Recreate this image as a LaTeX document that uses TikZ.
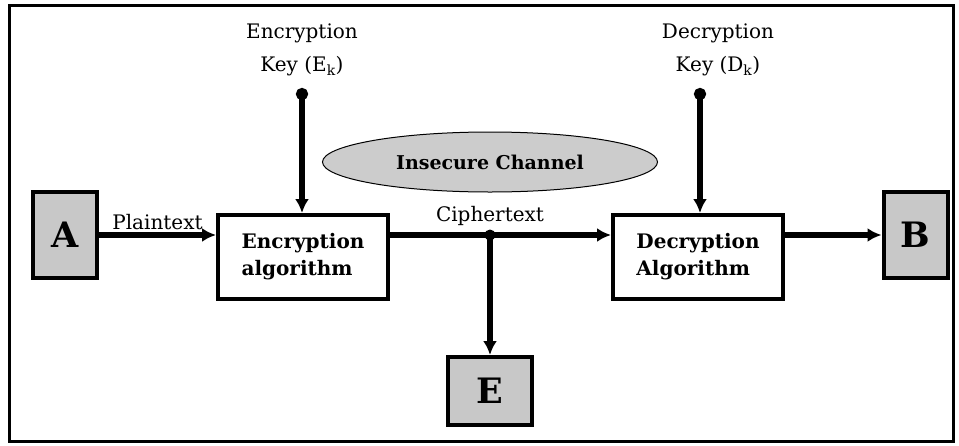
\documentclass[tikz,border=0pt]{standalone}
\usepackage{fontspec}
\setmainfont{DejaVu Serif}
\usetikzlibrary{arrows.meta,shapes.geometric}
\definecolor{partygray}{RGB}{200,200,200}
\definecolor{chgray}{RGB}{204,204,204}
\tikzset{
  party/.style={draw,line width=4pt,fill=partygray,minimum width=64pt,minimum height=86pt,
    font=\fontsize{35}{35}\selectfont\bfseries},
  algo/.style={draw,line width=4pt,fill=white,minimum width=170pt,minimum height=84pt,
    align=left,font=\fontsize{20}{27}\selectfont\bfseries},
  lbl/.style={align=center,font=\fontsize{20}{33}\selectfont},
  flow/.style={line width=5.5pt,-{Latex[length=14pt,width=14pt]}},
  keyflow/.style={line width=5.5pt,{Circle[length=12pt]}-{Latex[length=14pt,width=14pt]}},
}
\begin{document}
\begin{tikzpicture}[x=1pt,y=-1pt]
\useasboundingbox (0,0) rectangle (959,445);
\draw[line width=3pt] (9,5) rectangle (953,441);        % outer frame
% sender, receiver and eavesdropper
\node[party] (A) at (65,235) {A};
\node[party] (B) at (915.5,235) {B};
\node[party,minimum width=84pt,minimum height=68pt] (E) at (490,391) {E};
% the two algorithms
\node[algo] (enc) at (303,257) {Encryption\\algorithm};
\node[algo] (dec) at (698,257) {Decryption\\Algorithm};
% channel
\node[ellipse,draw,line width=1pt,fill=chgray,minimum width=335pt,minimum height=60pt,
  font=\fontsize{19}{19}\selectfont\bfseries] (chan) at (490,162) {Insecure Channel};
% keys
\node[lbl] (ekey) at (302,50) {Encryption\\Key (E\textsubscript{k})};
\node[lbl] (dkey) at (718,50) {Decryption\\Key (D\textsubscript{k})};
\coordinate (ekdot) at (302,88);
\coordinate (dkdot) at (700,88);
\draw[keyflow] (ekdot) -- (ekdot |- enc.north);
\draw[keyflow] (dkdot) -- (dkdot |- dec.north);
% message flow
\coordinate (tap) at (490,235);
\draw[flow] (A.east) -- (A.east -| enc.west)
  node[lbl,midway,above,yshift=-1pt] (plain) {Plaintext};
\draw[line width=5.5pt] (tap -| enc.east) -- (tap);
\draw[flow] (tap) -- (tap -| dec.west);
\draw[flow] (tap) -- (E.north);
\fill (tap) circle (5.5pt);
\node[lbl,above=6pt] (cipher) at (tap) {Ciphertext};
\draw[flow] (B.west -| dec.east) -- (B.west);
\end{tikzpicture}
\end{document}
